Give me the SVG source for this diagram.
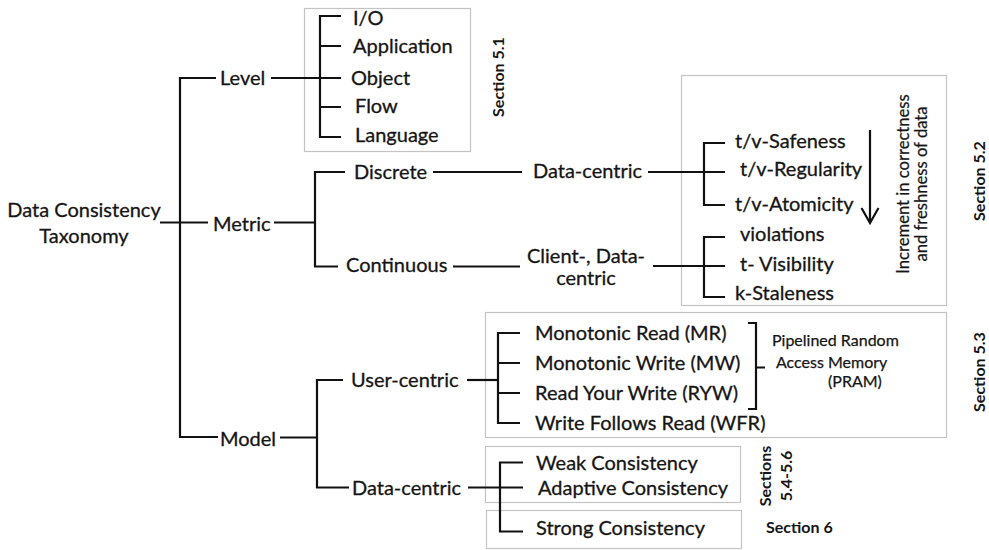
<svg xmlns="http://www.w3.org/2000/svg" width="989" height="550" viewBox="0 0 989 550">
<style>
  .t { font-family: Lato, "Open Sans", "Liberation Sans", sans-serif; font-size: 20px; fill: #151515; stroke: #151515; stroke-width: 0.3; }
  .s { font-family: Lato, "Open Sans", "Liberation Sans", sans-serif; font-size: 16px; fill: #151515; stroke: #151515; stroke-width: 0.25; }
  .r { font-family: Lato, "Open Sans", "Liberation Sans", sans-serif; font-size: 16.6px; fill: #151515; stroke: #151515; stroke-width: 0.25; }
  .b { font-family: Lato, "Open Sans", "Liberation Sans", sans-serif; font-size: 16px; font-weight: bold; fill: #151515; }
  .box { fill: none; stroke: #c4c4c4; stroke-width: 1.2; }
  .c { fill: none; stroke: #111; stroke-width: 2.2; stroke-linecap: butt; stroke-linejoin: miter; }
</style>
<rect width="989" height="550" fill="#fff"/>

<g id="boxes">
  <rect class="box" x="304.5" y="8.5" width="166" height="143"/>
  <rect class="box" x="681.5" y="75.5" width="265" height="230"/>
  <rect class="box" x="485.5" y="312.5" width="461" height="125"/>
  <rect class="box" x="485.5" y="446.5" width="255" height="56"/>
  <rect class="box" x="486.5" y="510.5" width="255" height="38"/>
</g>

<g id="connectors">
  <!-- root -->
  <path class="c" d="M160,222.5 H208"/>
  <path class="c" d="M216,78 H180 V437 H218"/>
  <!-- level bracket -->
  <path class="c" d="M271,78 H341"/>
  <path class="c" d="M341,16 H320 V137 H341 M320,46 H341 M320,107 H341"/>
  <!-- metric -->
  <path class="c" d="M274,222.5 H315"/>
  <path class="c" d="M345,172 H315 V266.5 H338"/>
  <path class="c" d="M433,172 H522"/>
  <path class="c" d="M648,172 H725"/>
  <path class="c" d="M725,143 H704 V205 H725"/>
  <path class="c" d="M453,266.5 H520"/>
  <path class="c" d="M653,266 H725"/>
  <path class="c" d="M725,237 H704 V297 H725"/>
  <!-- arrow -->
  <path class="c" d="M870,130 V223 M861.5,208 L870,223 L878.5,208" stroke-width="2"/>
  <!-- model -->
  <path class="c" d="M280,437.5 H317"/>
  <path class="c" d="M343,380 H317 V487.5 H349"/>
  <path class="c" d="M467,380 H498"/>
  <path class="c" d="M520,333 H498 V423 H520 M498,363 H520 M498,393 H520"/>
  <path class="c" d="M748,323 H756 V409 H748 M756,367.5 H765"/>
  <path class="c" d="M468,487.5 H523"/>
  <path class="c" d="M523,462.5 H500 V531.5 H523"/>
</g>

<g id="root">
  <text class="t" x="84" y="217" text-anchor="middle">Data Consistency</text>
  <text class="t" x="84" y="243" text-anchor="middle">Taxonomy</text>
</g>
<g id="level"><text class="t" x="220" y="85">Level</text></g>
<g id="metric"><text class="t" x="213" y="231">Metric</text></g>
<g id="model"><text class="t" x="220" y="446">Model</text></g>

<g id="level-items">
  <text class="t" x="353" y="25">I/O</text>
  <text class="t" x="353" y="53">Application</text>
  <text class="t" x="351" y="85">Object</text>
  <text class="t" x="355" y="113">Flow</text>
  <text class="t" x="355" y="142">Language</text>
</g>
<g id="section51"><text class="b" transform="translate(504,77) rotate(-90)" text-anchor="middle">Section 5.1</text></g>

<g id="discrete"><text class="t" x="354" y="179">Discrete</text></g>
<g id="discrete-datacentric"><text class="t" x="533" y="178">Data-centric</text></g>
<g id="continuous"><text class="t" x="346" y="272">Continuous</text></g>
<g id="continuous-clientdata">
  <text class="t" x="586" y="263" text-anchor="middle">Client-, Data-</text>
  <text class="t" x="586" y="285" text-anchor="middle">centric</text>
</g>

<g id="discrete-items">
  <text class="t" x="735" y="148">t/v-Safeness</text>
  <text class="t" x="740" y="176">t/v-Regularity</text>
  <text class="t" x="735" y="211">t/v-Atomicity</text>
</g>
<g id="continuous-items">
  <text class="t" x="740" y="241">violations</text>
  <text class="t" x="740" y="271">t- Visibility</text>
  <text class="t" x="735" y="300">k-Staleness</text>
</g>
<g id="increment-note">
  <text class="r" transform="translate(909,184) rotate(-90)" text-anchor="middle">Increment in correctness</text>
  <text class="r" transform="translate(927,184) rotate(-90)" text-anchor="middle">and freshness of data</text>
</g>
<g id="section52"><text class="b" transform="translate(985,181) rotate(-90)" text-anchor="middle">Section 5.2</text></g>

<g id="user-centric"><text class="t" x="351" y="387">User-centric</text></g>
<g id="user-items">
  <text class="t" x="535" y="340">Monotonic Read (MR)</text>
  <text class="t" x="535" y="370">Monotonic Write (MW)</text>
  <text class="t" x="535" y="400">Read Your Write (RYW)</text>
  <text class="t" x="535" y="430">Write Follows Read (WFR)</text>
</g>
<g id="pram">
  <text class="s" x="772" y="346">Pipelined Random</text>
  <text class="s" x="776" y="368">Access Memory</text>
  <text class="s" x="828" y="387">(PRAM)</text>
</g>
<g id="section53"><text class="b" transform="translate(985,372) rotate(-90)" text-anchor="middle">Section 5.3</text></g>

<g id="data-centric"><text class="t" x="352" y="495">Data-centric</text></g>
<g id="data-items">
  <text class="t" x="536" y="470">Weak Consistency</text>
  <text class="t" x="538" y="495">Adaptive Consistency</text>
  <text class="t" x="536" y="535">Strong Consistency</text>
</g>
<g id="section54">
  <text class="b" transform="translate(771,476) rotate(-90)" text-anchor="middle">Sections</text>
  <text class="b" transform="translate(792,476) rotate(-90)" text-anchor="middle">5.4-5.6</text>
</g>
<g id="section6"><text class="b" x="766" y="533">Section 6</text></g>
</svg>
